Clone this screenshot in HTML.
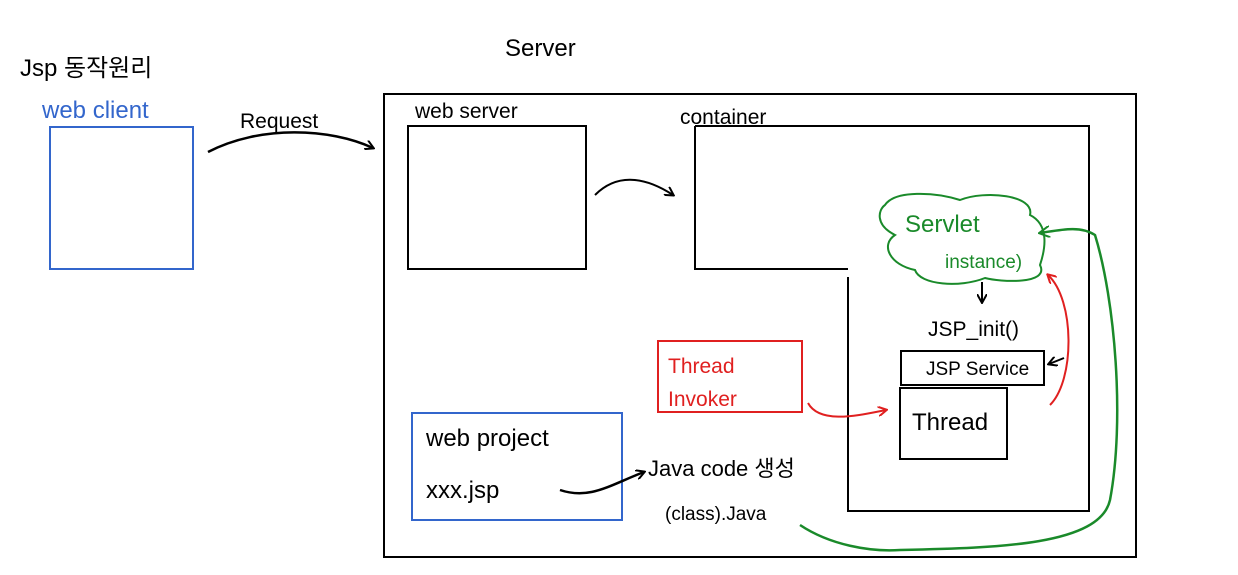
<!DOCTYPE html>
<html><head><meta charset="utf-8"><style>
html,body{margin:0;padding:0;background:#fff;width:1238px;height:575px;overflow:hidden}
svg text{font-family:"Liberation Sans","Noto Sans CJK KR",sans-serif}
</style></head><body>
<svg width="1238" height="575" viewBox="0 0 1238 575" xmlns="http://www.w3.org/2000/svg">
<defs>
<marker id="ak" markerWidth="10" markerHeight="10" refX="8" refY="5" orient="auto" markerUnits="userSpaceOnUse"><path d="M0,0 L9,5 L0,10" fill="none" stroke="#000" stroke-width="2"/></marker>
<marker id="ar" markerWidth="10" markerHeight="10" refX="8" refY="5" orient="auto" markerUnits="userSpaceOnUse"><path d="M0,0 L9,5 L0,10" fill="none" stroke="#e02020" stroke-width="2"/></marker>
<marker id="ag" markerWidth="12" markerHeight="12" refX="10" refY="6" orient="auto" markerUnits="userSpaceOnUse"><path d="M0,0 L11,6 L0,12" fill="none" stroke="#1a8a2a" stroke-width="2"/></marker>
</defs>
<text x="20" y="76" font-size="24" fill="#000">Jsp 동작원리</text>
<text x="505" y="56" font-size="24" fill="#000">Server</text>
<text x="42" y="118" font-size="24" fill="#3366cc">web client</text>
<rect x="50" y="127" width="143" height="142" fill="none" stroke="#3366cc" stroke-width="2"/>
<text x="240" y="128" font-size="21" fill="#000">Request</text>
<path d="M208,152 C260,125 330,128 373,148" fill="none" stroke="#000" stroke-width="2.5" marker-end="url(#ak)"/>
<rect x="384" y="94" width="752" height="463" fill="none" stroke="#000" stroke-width="2"/>
<text x="415" y="118" font-size="21" fill="#000">web  server</text>
<rect x="408" y="126" width="178" height="143" fill="none" stroke="#000" stroke-width="2"/>
<path d="M595,195 C620,170 650,180 673,195" fill="none" stroke="#000" stroke-width="2" marker-end="url(#ak)"/>
<text x="680" y="124" font-size="21" fill="#000">container</text>
<path d="M695,126 L1089,126 L1089,511 L848,511 L848,277 M848,269 L695,269 L695,126" fill="none" stroke="#000" stroke-width="2"/>
<path d="M885,205 C895,190 935,192 960,200 C985,190 1035,195 1030,215 C1050,225 1045,250 1040,265 C1050,285 1000,282 985,278 C960,288 920,285 915,270 C890,265 880,245 895,235 C875,225 878,210 885,205 Z" fill="none" stroke="#1a8a2a" stroke-width="2"/>
<text x="905" y="232" font-size="24" fill="#1a8a2a">Servlet</text>
<text x="945" y="268" font-size="19" fill="#1a8a2a">instance)</text>
<path d="M982,282 L982,302" stroke="#000" stroke-width="2" marker-end="url(#ak)"/>
<text x="928" y="336" font-size="21" fill="#000">JSP_init()</text>
<rect x="901" y="351" width="143" height="34" fill="none" stroke="#000" stroke-width="2"/>
<text x="926" y="375" font-size="19" fill="#000">JSP Service</text>
<path d="M1064,358 L1049,364" stroke="#000" stroke-width="2" marker-end="url(#ak)"/>
<rect x="900" y="388" width="107" height="71" fill="none" stroke="#000" stroke-width="2"/>
<text x="912" y="430" font-size="24" fill="#000">Thread</text>
<rect x="658" y="341" width="144" height="71" fill="none" stroke="#e02020" stroke-width="2"/>
<text x="668" y="373" font-size="21" fill="#e02020">Thread</text>
<text x="668" y="406" font-size="21" fill="#e02020">Invoker</text>
<path d="M808,403 C820,425 860,415 886,410" fill="none" stroke="#e02020" stroke-width="2" marker-end="url(#ar)"/>
<path d="M1050,405 C1075,380 1075,300 1048,275" fill="none" stroke="#e02020" stroke-width="2" marker-end="url(#ar)"/>
<path d="M800,525 C830,545 870,552 900,550 C1000,548 1100,545 1110,500 C1125,420 1115,300 1095,235 C1080,225 1060,230 1040,233" fill="none" stroke="#1a8a2a" stroke-width="2.5" marker-end="url(#ag)"/>
<rect x="412" y="413" width="210" height="107" fill="none" stroke="#3366cc" stroke-width="2"/>
<text x="426" y="446" font-size="24" fill="#000">web project</text>
<text x="426" y="498" font-size="24" fill="#000">xxx.jsp</text>
<path d="M560,490 C590,500 610,485 644,472" fill="none" stroke="#000" stroke-width="2.5" marker-end="url(#ak)"/>
<text x="648" y="476" font-size="22" fill="#000">Java code 생성</text>
<text x="665" y="520" font-size="19" fill="#000">(class).Java</text>
</svg>
</body></html>
